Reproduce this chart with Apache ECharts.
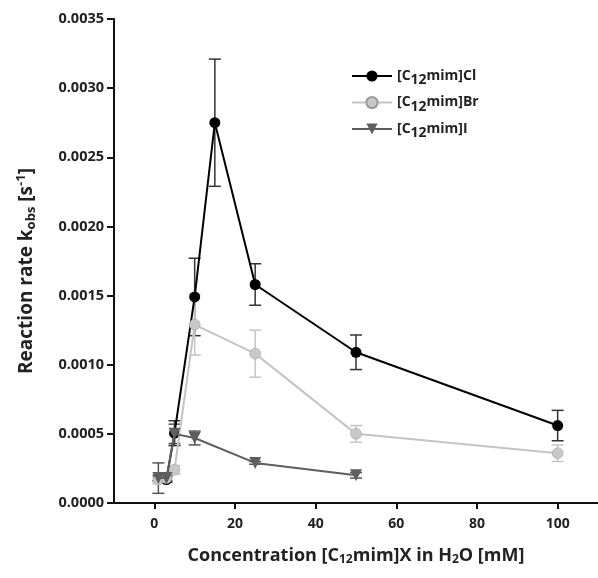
<!DOCTYPE html>
<html><head><meta charset="utf-8">
<script src="https://cdn.jsdelivr.net/npm/echarts@6/dist/echarts.min.js"></script>
<style>html,body{margin:0;padding:0;background:#fff}#c{width:598px;height:578px}</style>
</head><body><div id="c"></div>
<script>
const clX = [1, 3, 5, 10, 15, 25, 50, 100];
const clY = [0.00018, 0.00017, 0.000505, 0.00149, 0.00275, 0.00158, 0.00109, 0.00056];
const clErr = [0.00002, 0.00002, 0.00009, 0.00028, 0.00046, 0.00015, 0.000125, 0.00011];
const brX = [1, 3, 5, 10, 25, 50, 100];
const brY = [0.00017, 0.00018, 0.00024, 0.00129, 0.00108, 0.0005, 0.00036];
const brErr = [0.00003, 0.00002, 0.00003, 0.00022, 0.00017, 0.00006, 0.00006];
const iX = [1, 3, 5, 10, 25, 50];
const iY = [0.00018, 0.00018, 0.0005, 0.00047, 0.00029, 0.0002];
const iErr = [0.00011, 0.00002, 0.00007, 0.00005, 0.00001, 0.00002];
const xTicks = [0, 20, 40, 60, 80, 100];
const yTicks = [0, 0.0005, 0.001, 0.0015, 0.002, 0.0025, 0.003, 0.0035];
const seriesNames = ['[C12mim]Cl', '[C12mim]Br', '[C12mim]I'];

const FONT = '"Open Sans", "DejaVu Sans", sans-serif';
function pts(xs, ys) { return xs.map((x, i) => [x, ys[i]]); }
function errData(xs, ys, es) { return xs.map((x, i) => [x, ys[i] - es[i], ys[i] + es[i]]); }
function errSeries(xs, ys, es, color) {
  return {
    type: 'custom', silent: true, z: 1,
    data: errData(xs, ys, es),
    renderItem: function (params, api) {
      const lo = api.coord([api.value(0), api.value(1)]);
      const hi = api.coord([api.value(0), api.value(2)]);
      const w = 6;
      const st = { stroke: color, lineWidth: 1.5 };
      return { type: 'group', children: [
        { type: 'line', shape: { x1: lo[0], y1: lo[1], x2: hi[0], y2: hi[1] }, style: st },
        { type: 'line', shape: { x1: lo[0] - w, y1: lo[1], x2: lo[0] + w, y2: lo[1] }, style: st },
        { type: 'line', shape: { x1: hi[0] - w, y1: hi[1], x2: hi[0] + w, y2: hi[1] }, style: st }
      ]};
    }
  };
}
const legRich = {
  b: { fontFamily: FONT, fontWeight: 'bold', fontSize: 14, color: '#222' },
  s: { fontFamily: FONT, fontWeight: 'bold', fontSize: 14, color: '#222', verticalAlign: 'bottom', padding: [9, 0, 0, 0] }
};
const nameRich = {
  b: { fontFamily: FONT, fontWeight: 'bold', fontSize: 18, color: '#222' },
  s: { fontFamily: FONT, fontWeight: 'bold', fontSize: 12, color: '#222', verticalAlign: 'bottom', padding: [9, 0, 0, 0] },
  t: { fontFamily: FONT, fontWeight: 'bold', fontSize: 12, color: '#222', verticalAlign: 'top', padding: [0, 0, 9, 0] }
};
const yNameRich = {
  b: { fontFamily: FONT, fontWeight: 'bold', fontSize: 19, color: '#222' },
  s: { fontFamily: FONT, fontWeight: 'bold', fontSize: 13, color: '#222', verticalAlign: 'bottom', padding: [10, 0, 0, 0] },
  t: { fontFamily: FONT, fontWeight: 'bold', fontSize: 13, color: '#222', verticalAlign: 'top', padding: [0, 0, 10, 0] }
};
const chart = echarts.init(document.getElementById('c'));
chart.setOption({
  animation: false,
  backgroundColor: '#fff',
  grid: { left: 114, right: -2, top: 19, bottom: 75 },
  legend: {
    left: 346, top: 64, orient: 'vertical', itemGap: 8, itemWidth: 40, itemHeight: 14,
    data: seriesNames,
    formatter: function (n) { return '{b|[C}{s|12}{b|mim]' + n.split(']')[1] + '}'; },
    textStyle: { rich: legRich }
  },
  xAxis: {
    type: 'value', min: -10, max: 110,
    name: '{b|Concentration [C}{s|12}{b|mim]X in H}{s|2}{b|O [mM]}',
    nameLocation: 'middle', nameGap: 42,
    nameTextStyle: { rich: nameRich },
    axisLine: { show: true, onZero: false, lineStyle: { color: '#111', width: 2 } },
    axisTick: { show: true, customValues: xTicks, length: 6, lineStyle: { color: '#111', width: 2 } },
    axisLabel: { customValues: xTicks, margin: 14, fontFamily: FONT, fontWeight: 'bold', fontSize: 14, color: '#222' },
    splitLine: { show: false }
  },
  yAxis: {
    type: 'value', min: 0, max: 0.0035,
    name: '{b|Reaction rate k}{s|obs}{b| [s}{t|-1}{b|]}',
    nameLocation: 'middle', nameGap: 76, nameRotate: 90,
    nameTextStyle: { rich: yNameRich, padding: [0, 20, 0, 0] },
    axisLine: { show: true, onZero: false, lineStyle: { color: '#111', width: 2 } },
    axisTick: { show: true, customValues: yTicks, length: 7, lineStyle: { color: '#111', width: 2 } },
    axisLabel: { customValues: yTicks, margin: 10, fontFamily: FONT, fontWeight: 'bold', fontSize: 14.5, color: '#222',
      formatter: v => v.toFixed(4) },
    splitLine: { show: false }
  },
  series: [
    errSeries(clX, clY, clErr, '#333'),
    errSeries(brX, brY, brErr, '#c4c4c4'),
    errSeries(iX, iY, iErr, '#555'),
    { name: seriesNames[1], type: 'line', data: pts(brX, brY), z: 3, symbol: 'circle', symbolSize: 11,
      lineStyle: { color: '#c4c4c4', width: 2 }, itemStyle: { color: '#c8c8c8', borderColor: '#9a9a9a', borderWidth: 0.5 } },
    { name: seriesNames[2], type: 'line', data: pts(iX, iY), z: 4, symbol: 'triangle', symbolRotate: 180, symbolSize: 12,
      lineStyle: { color: '#5e5e5e', width: 2 }, itemStyle: { color: '#5e5e5e' } },
    { name: seriesNames[0], type: 'line', data: pts(clX, clY), z: 2, symbol: 'circle', symbolSize: 11,
      lineStyle: { color: '#000', width: 2 }, itemStyle: { color: '#000' } }
  ]
});
</script></body></html>
